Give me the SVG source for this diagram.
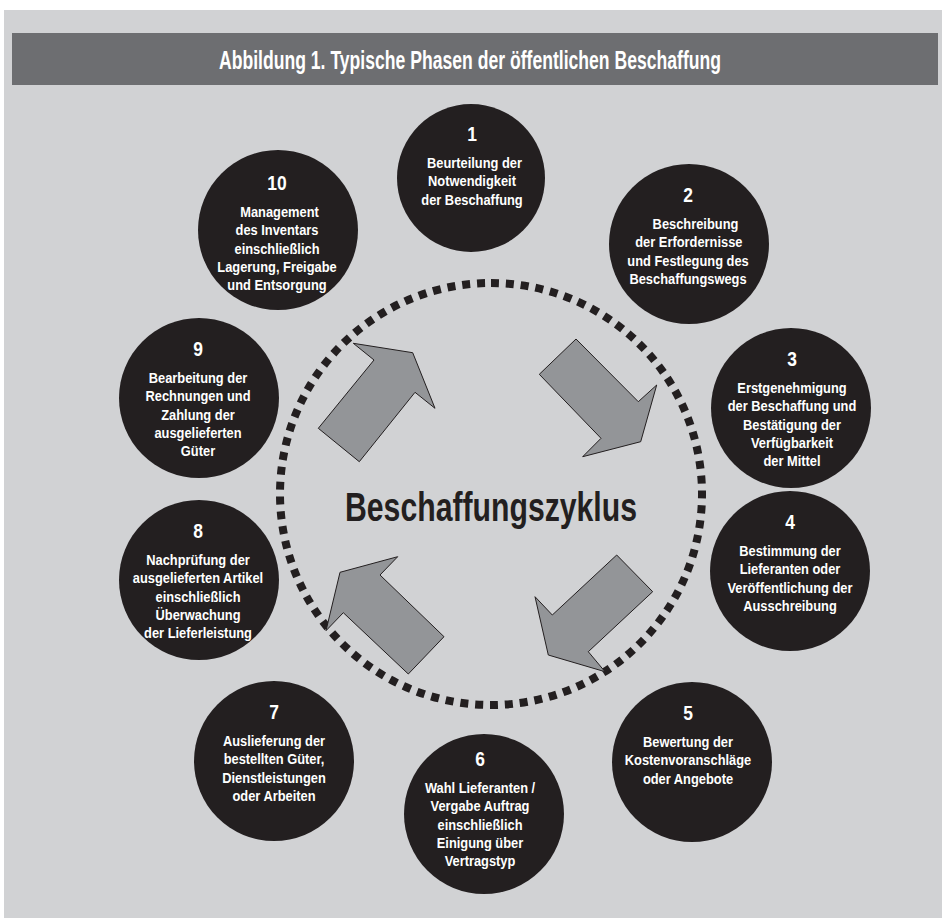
<svg xmlns="http://www.w3.org/2000/svg" width="942" height="918" viewBox="0 0 942 918">
  <style>
    .panel { fill: #d1d2d4; }
    .header { fill: #6d6e71; }
    .cond { font-family: "Liberation Sans", Arial, sans-serif; font-weight: bold; text-anchor: middle; }
    .title { fill: #ffffff; font-size: 25px; }
    .phase { fill: #231f20; }
    .num { fill: #ffffff; font-size: 21px; }
    .lbl { fill: #ffffff; font-size: 15.5px; }
    .ring { fill: none; stroke: #231f20; stroke-width: 8; stroke-dasharray: 8 6.9; }
    .arrow { fill: #939598; stroke: #231f20; stroke-width: 1; stroke-linejoin: miter; }
    .center { fill: #231f20; font-size: 40px; }
  </style>

  <!-- background panel and title bar -->
  <rect x="0" y="0" width="942" height="918" fill="#ffffff"/>
  <rect class="panel" x="4" y="10" width="938" height="908"/>
  <rect class="header" x="12" y="33" width="926" height="52"/>
  <text class="cond title" x="470" y="69" textLength="502" lengthAdjust="spacingAndGlyphs">Abbildung 1.  Typische Phasen der öffentlichen Beschaffung</text>

  <!-- cycle ring and arrows -->
  <g id="connectors">
    <circle class="ring" cx="491" cy="494" r="211" transform="rotate(-90 491 494)"/>
    <polygon class="arrow" points="353.3,343.3 412.7,352.7 435,408.3 415,392.3 359.3,461.7 318.3,428.3 374,360"/>
    <polygon class="arrow" points="539.3,374.3 576,339 638.3,401.7 656.7,385 640.7,441.7 582.7,456.7 601,438.3"/>
    <polygon class="arrow" points="616.7,555 652.7,591.7 588.3,651.7 605,671.7 548.3,655 535,596.7 552.3,615"/>
    <polygon class="arrow" points="444,636.7 408.3,674 343.3,612.7 326,630.7 340,572.3 397.7,556.7 380,575"/>
  </g>
  <text id="cycle-label" class="cond center" x="491" y="521" textLength="292" lengthAdjust="spacingAndGlyphs">Beschaffungszyklus</text>

  <!-- phases: each label block is narrowed horizontally around its circle's centre -->
  <g id="phase1">
    <circle class="phase" cx="471" cy="178" r="74"/>
    <g transform="translate(472 0) scale(0.83 1)">
      <text class="cond num" x="0" y="141">1</text>
      <text class="cond lbl" x="3" y="168">Beurteilung der</text>
      <text class="cond lbl" x="0" y="186.3">Notwendigkeit</text>
      <text class="cond lbl" x="0" y="204.6">der Beschaffung</text>
    </g>
  </g>
  <g id="phase2">
    <circle class="phase" cx="689" cy="244" r="80"/>
    <g transform="translate(688 0) scale(0.83 1)">
      <text class="cond num" x="0" y="202">2</text>
      <text class="cond lbl" x="9" y="229">Beschreibung</text>
      <text class="cond lbl" x="1" y="247.3">der Erfordernisse</text>
      <text class="cond lbl" x="0" y="265.6">und Festlegung des</text>
      <text class="cond lbl" x="0" y="283.9">Beschaffungswegs</text>
    </g>
  </g>
  <g id="phase3">
    <circle class="phase" cx="791" cy="408" r="80"/>
    <g transform="translate(792 0) scale(0.83 1)">
      <text class="cond num" x="0" y="366">3</text>
      <text class="cond lbl" x="0" y="393">Erstgenehmigung</text>
      <text class="cond lbl" x="0" y="411.3">der Beschaffung und</text>
      <text class="cond lbl" x="0" y="429.6">Bestätigung der</text>
      <text class="cond lbl" x="0" y="447.9">Verfügbarkeit</text>
      <text class="cond lbl" x="0" y="466.2">der Mittel</text>
    </g>
  </g>
  <g id="phase4">
    <circle class="phase" cx="790" cy="571" r="80"/>
    <g transform="translate(790 0) scale(0.83 1)">
      <text class="cond num" x="0" y="529">4</text>
      <text class="cond lbl" x="0" y="556">Bestimmung der</text>
      <text class="cond lbl" x="0" y="574.3">Lieferanten oder</text>
      <text class="cond lbl" x="0" y="592.6">Veröffentlichung der</text>
      <text class="cond lbl" x="0" y="610.9">Ausschreibung</text>
    </g>
  </g>
  <g id="phase5">
    <circle class="phase" cx="692" cy="762" r="80"/>
    <g transform="translate(688 0) scale(0.83 1)">
      <text class="cond num" x="0" y="720">5</text>
      <text class="cond lbl" x="0" y="747">Bewertung der</text>
      <text class="cond lbl" x="0" y="765.3">Kostenvoranschläge</text>
      <text class="cond lbl" x="0" y="783.6">oder Angebote</text>
    </g>
  </g>
  <g id="phase6">
    <circle class="phase" cx="484" cy="814" r="80"/>
    <g transform="translate(480 0) scale(0.83 1)">
      <text class="cond num" x="0" y="766">6</text>
      <text class="cond lbl" x="0" y="793">Wahl Lieferanten /</text>
      <text class="cond lbl" x="0" y="811.3">Vergabe Auftrag</text>
      <text class="cond lbl" x="0" y="829.6">einschließlich</text>
      <text class="cond lbl" x="0" y="847.9">Einigung über</text>
      <text class="cond lbl" x="0" y="866.2">Vertragstyp</text>
    </g>
  </g>
  <g id="phase7">
    <circle class="phase" cx="274" cy="761" r="80"/>
    <g transform="translate(274 0) scale(0.83 1)">
      <text class="cond num" x="0" y="719">7</text>
      <text class="cond lbl" x="0" y="746">Auslieferung der</text>
      <text class="cond lbl" x="0" y="764.3">bestellten Güter,</text>
      <text class="cond lbl" x="0" y="782.6">Dienstleistungen</text>
      <text class="cond lbl" x="0" y="800.9">oder Arbeiten</text>
    </g>
  </g>
  <g id="phase8">
    <circle class="phase" cx="199" cy="580" r="80"/>
    <g transform="translate(198 0) scale(0.83 1)">
      <text class="cond num" x="0" y="538">8</text>
      <text class="cond lbl" x="0" y="565">Nachprüfung der</text>
      <text class="cond lbl" x="0" y="583.3">ausgelieferten Artikel</text>
      <text class="cond lbl" x="0" y="601.6">einschließlich</text>
      <text class="cond lbl" x="0" y="619.9">Überwachung</text>
      <text class="cond lbl" x="0" y="638.2">der Lieferleistung</text>
    </g>
  </g>
  <g id="phase9">
    <circle class="phase" cx="199" cy="398" r="80"/>
    <g transform="translate(198 0) scale(0.83 1)">
      <text class="cond num" x="0" y="356">9</text>
      <text class="cond lbl" x="0" y="383">Bearbeitung der</text>
      <text class="cond lbl" x="0" y="401.3">Rechnungen und</text>
      <text class="cond lbl" x="0" y="419.6">Zahlung der</text>
      <text class="cond lbl" x="0" y="437.9">ausgelieferten</text>
      <text class="cond lbl" x="0" y="456.2">Güter</text>
    </g>
  </g>
  <g id="phase10">
    <circle class="phase" cx="278" cy="230" r="80"/>
    <g transform="translate(277 0) scale(0.83 1)">
      <text class="cond num" x="0" y="190">10</text>
      <text class="cond lbl" x="3" y="217">Management</text>
      <text class="cond lbl" x="0" y="235.3">des Inventars</text>
      <text class="cond lbl" x="0" y="253.6">einschließlich</text>
      <text class="cond lbl" x="0" y="271.9">Lagerung, Freigabe</text>
      <text class="cond lbl" x="0" y="290.2">und Entsorgung</text>
    </g>
  </g>
</svg>
